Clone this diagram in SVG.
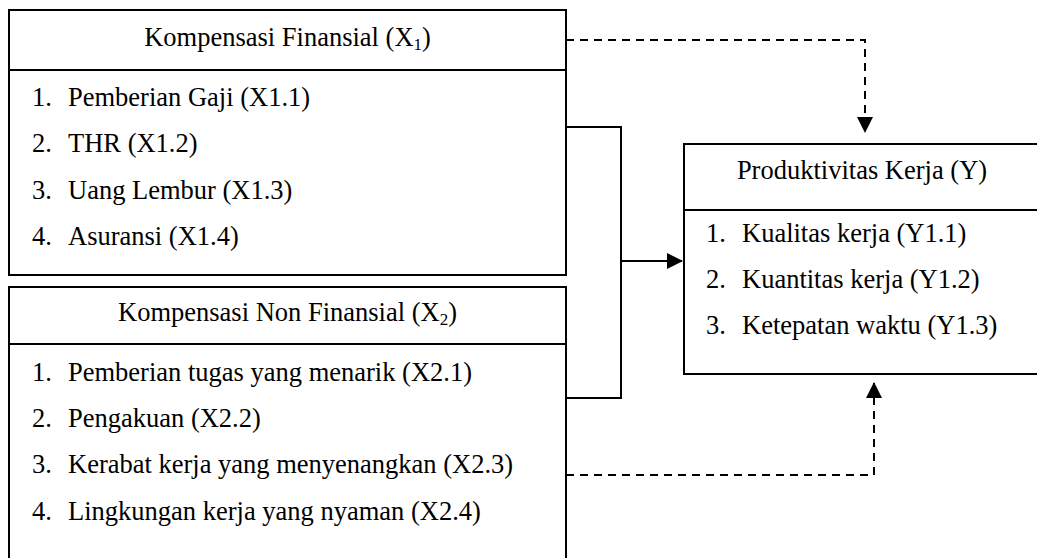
<svg xmlns="http://www.w3.org/2000/svg" width="1037" height="558" viewBox="0 0 1037 558">
<defs>
<style>
.box{fill:#fff;stroke:#000;stroke-width:2}
.sep{stroke:#000;stroke-width:2}
.t{font-family:"Liberation Serif","Times New Roman",serif;font-size:26.5px;fill:#000}
.c{text-anchor:middle}
.sub{font-size:17px}
.solid{fill:none;stroke:#000;stroke-width:2}
.dash{fill:none;stroke:#000;stroke-width:2;stroke-dasharray:8 6}
</style>
<marker id="ah" markerWidth="16" markerHeight="16" viewBox="0 0 16 16" refX="15" refY="8" orient="auto" markerUnits="userSpaceOnUse">
<path d="M0,0 L16,8 L0,16 Z" fill="#000"/>
</marker>
</defs>
<rect width="1037" height="558" fill="#fff"/>
<g id="x1">
<rect class="box" x="9" y="10" width="557" height="265"/>
<line class="sep" x1="9" y1="70" x2="566" y2="70"/>
<text class="t c" x="287.5" y="46">Kompensasi Finansial (X<tspan class="sub" dy="4">1</tspan><tspan dy="-4">)</tspan></text>
<text class="t" x="32" y="106">1.</text><text class="t" x="68" y="106">Pemberian Gaji (X1.1)</text>
<text class="t" x="32" y="152">2.</text><text class="t" x="68" y="152">THR (X1.2)</text>
<text class="t" x="32" y="199">3.</text><text class="t" x="68" y="199">Uang Lembur (X1.3)</text>
<text class="t" x="32" y="245">4.</text><text class="t" x="68" y="245">Asuransi (X1.4)</text>
</g>
<g id="x2">
<rect class="box" x="9" y="287" width="557" height="320"/>
<line class="sep" x1="9" y1="344" x2="566" y2="344"/>
<text class="t c" x="287.5" y="321">Kompensasi Non Finansial (X<tspan class="sub" dy="4">2</tspan><tspan dy="-4">)</tspan></text>
<text class="t" x="32" y="381">1.</text><text class="t" x="68" y="381">Pemberian tugas yang menarik (X2.1)</text>
<text class="t" x="32" y="427">2.</text><text class="t" x="68" y="427">Pengakuan (X2.2)</text>
<text class="t" x="32" y="473">3.</text><text class="t" x="68" y="473">Kerabat kerja yang menyenangkan (X2.3)</text>
<text class="t" x="32" y="520">4.</text><text class="t" x="68" y="520">Lingkungan kerja yang nyaman (X2.4)</text>
</g>
<g id="y">
<rect class="box" x="684" y="144" width="360" height="230"/>
<line class="sep" x1="684" y1="210" x2="1044" y2="210"/>
<text class="t c" x="862" y="179">Produktivitas Kerja (Y)</text>
<text class="t" x="706" y="242">1.</text><text class="t" x="742" y="242">Kualitas kerja (Y1.1)</text>
<text class="t" x="706" y="288">2.</text><text class="t" x="742" y="288">Kuantitas kerja (Y1.2)</text>
<text class="t" x="706" y="334">3.</text><text class="t" x="742" y="334">Ketepatan waktu (Y1.3)</text>
</g>
<g id="connectors">
<polyline class="solid" points="566,127 621,127 621,398 566,398"/>
<line class="solid" x1="621" y1="261" x2="682" y2="261" marker-end="url(#ah)"/>
<polyline class="dash" points="566,40 865,40 865,132" marker-end="url(#ah)"/>
<polyline class="dash" points="566,475 874,475 874,383" marker-end="url(#ah)"/>
</g>
</svg>
